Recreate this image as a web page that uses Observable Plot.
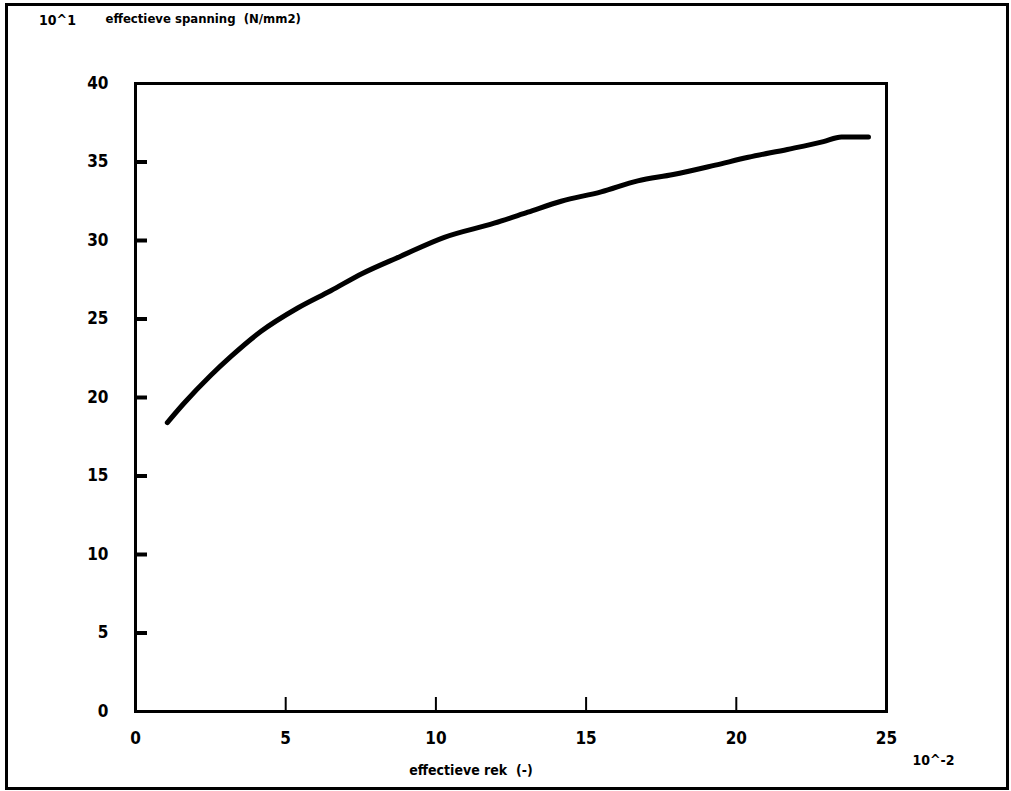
<!DOCTYPE html>
<html>
<head>
<meta charset="utf-8">
<script src="https://cdn.jsdelivr.net/npm/d3@7"></script>
<script src="https://cdn.jsdelivr.net/npm/@observablehq/plot@0.6"></script>
<style>
  html, body { margin: 0; padding: 0; background: #fff; }
  #wrap { position: relative; width: 1011px; height: 791px; }
  #border { position: absolute; left: 5px; top: 3px; width: 998px; height: 781px; border: 3px solid #000; pointer-events: none; }
  svg text { font-family: "DejaVu Sans Condensed", "DejaVu Sans", sans-serif; font-weight: bold; }
</style>
</head>
<body>
<div id="wrap"><div id="border"></div></div>
<script>
// effectieve rek (10^-2)
const rek = [1.06, 1.6, 2.5, 3.17, 4.17, 5.4, 6.5, 7.55, 8.83, 10.28, 11.94, 13.06, 14.17, 15.5, 16.72, 17.9, 19.3, 20.4, 21.7, 22.9, 23.5, 24.4];
// effectieve spanning (10^1 N/mm2)
const spanning = [18.4, 19.6, 21.4, 22.6, 24.2, 25.7, 26.8, 27.9, 29.0, 30.2, 31.1, 31.8, 32.5, 33.1, 33.8, 34.2, 34.8, 35.3, 35.8, 36.3, 36.6, 36.6];
const xTicks = [0, 5, 10, 15, 20, 25];
const yTicks = [0, 5, 10, 15, 20, 25, 30, 35, 40];
const yInnerTicks = [5, 10, 15, 20, 25, 30, 35];
const xInnerTicks = [5, 10, 15, 20];
const yTitle = "effectieve spanning  (N/mm2)";
const yExp = "10^1";
const xTitle = "effectieve rek  (-)";
const xExp = "10^-2";

const data = rek.map((r, i) => ({rek: r, spanning: spanning[i]}));

const chart = Plot.plot({
  width: 1011,
  height: 791,
  marginLeft: 135,
  marginRight: 125,
  marginTop: 83,
  marginBottom: 80,
  style: {background: "transparent", color: "#000", fontSize: "16px"},
  x: {domain: [0, 25]},
  y: {domain: [0, 40]},
  marks: [
    Plot.axisY(yInnerTicks, {tickSize: -12, strokeWidth: 4, tickFormat: () => "", label: null}),
    Plot.axisX(xInnerTicks, {tickSize: -14, strokeWidth: 2, tickFormat: () => "", label: null}),
    Plot.axisY(yTicks, {tickSize: 0, tickPadding: 27, fontSize: 17, label: null}),
    Plot.axisX(xTicks, {tickSize: 0, tickPadding: 20, fontSize: 17, label: null}),
    Plot.frame({stroke: "#000", strokeWidth: 3}),
    Plot.line(data, {x: "rek", y: "spanning", stroke: "#000", strokeWidth: 5, curve: "monotone-x"}),
    Plot.text([yExp], {frameAnchor: "top-left", textAnchor: "middle", lineAnchor: "middle", dx: -78, dy: -63, text: d => d, fontSize: 14}),
    Plot.text([yTitle], {frameAnchor: "top-left", textAnchor: "start", lineAnchor: "middle", dx: -30, dy: -65, text: d => d, fontSize: 13}),
    Plot.text([xTitle], {frameAnchor: "bottom", textAnchor: "middle", lineAnchor: "middle", dx: -40, dy: 59, text: d => d, fontSize: 14}),
    Plot.text([xExp], {frameAnchor: "bottom-right", textAnchor: "middle", lineAnchor: "middle", dx: 47, dy: 49, text: d => d, fontSize: 14})
  ]
});
document.getElementById("wrap").prepend(chart);
</script>
</body>
</html>
